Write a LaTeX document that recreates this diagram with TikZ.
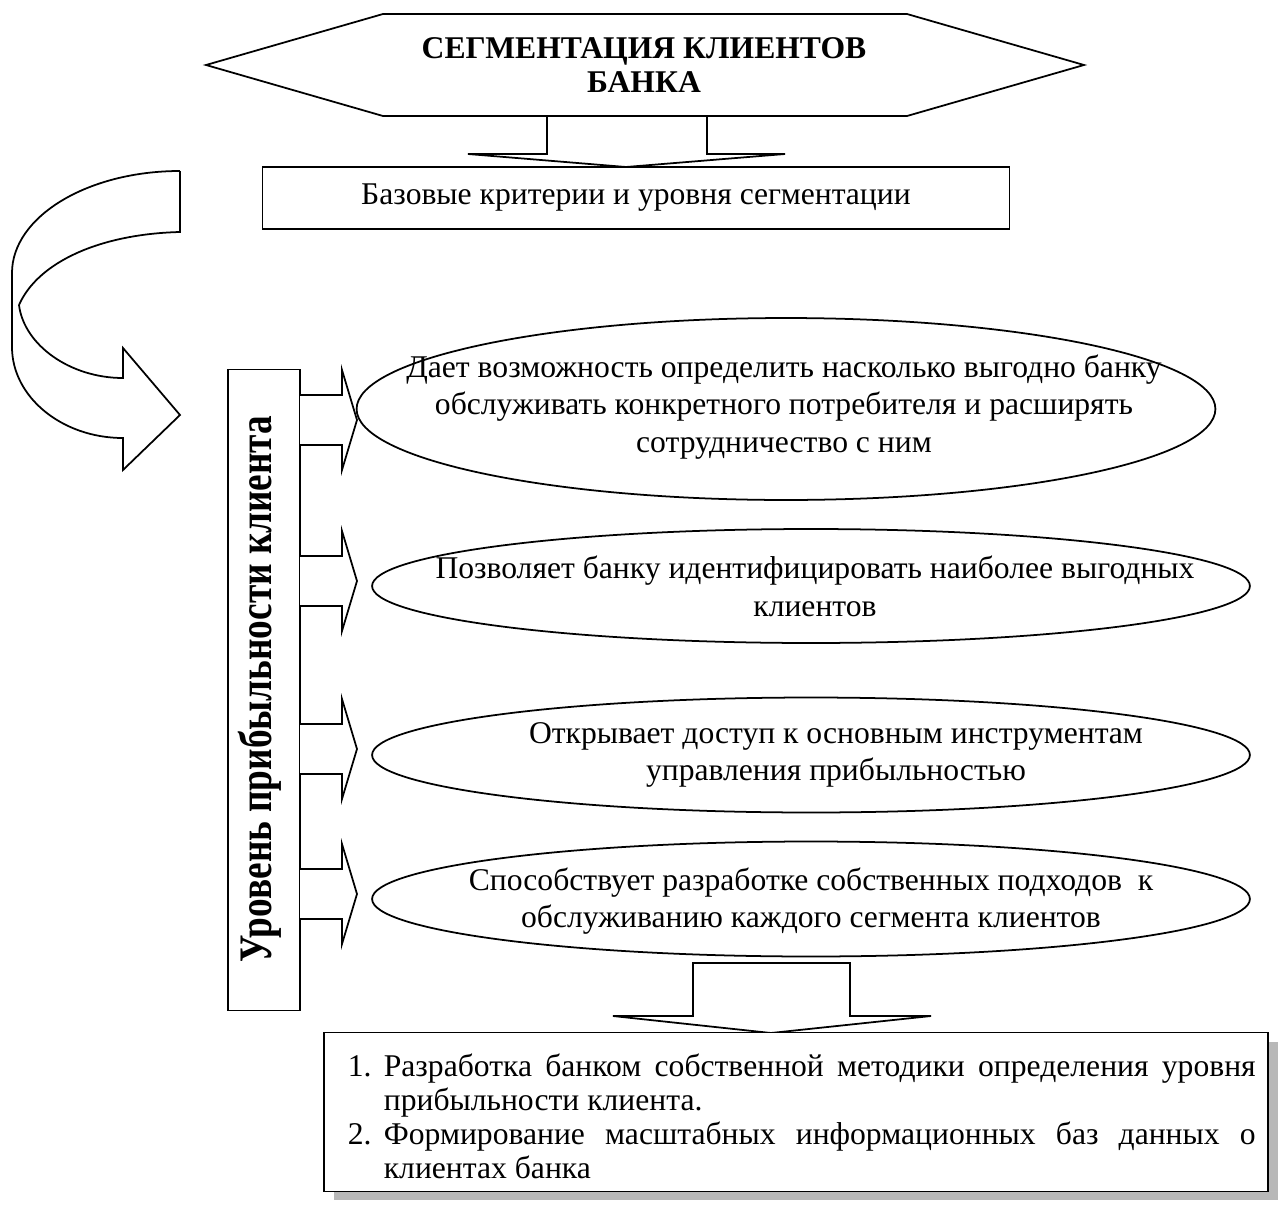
\documentclass[tikz,border=0pt]{standalone}
\usepackage{fontspec}
\setmainfont{Liberation Serif}
\newfontfamily\levelfont{Liberation Serif}[FakeStretch=0.8]
\usepackage{enumitem}
\usetikzlibrary{shapes.geometric}
\usetikzlibrary{shadows}

\begin{document}
\begin{tikzpicture}[
  x=0.02cm, y=-0.02cm, % one unit = one pixel of the scan
  line width=1pt,
  every node/.style={
    align=center,
    font=\fontsize{18}{21.5}\selectfont
  },
  box/.style={draw, rectangle, fill=white},
  oval/.style={draw, ellipse, inner sep=0pt},
  blockarrow/.style={draw, fill=white, line join=miter}
]
\useasboundingbox (0,0) rectangle (1282,1207);

% title
\draw (547,116) -- (547,154) -- (468,154) -- (626,167) -- (785,154) -- (707,154) -- (707,116);
\draw (206,65) -- (383,14) -- (907,14) -- (1084,65) -- (907,116) -- (383,116) -- cycle;
\node[font=\bfseries\fontsize{18}{19.5}\selectfont] (title) at (644,65) {СЕГМЕНТАЦИЯ КЛИЕНТОВ\\БАНКА};

\node[box, minimum width=14.94cm, minimum height=1.24cm] (base) at (636,198) {Базовые критерии и уровня сегментации};

% curved arrow
\draw[blockarrow] (180,171) .. controls (87,171) and (12,217) .. (12,273) -- (12,347)
  .. controls (12,397) and (62,438) .. (123,438) -- (123,470) -- (180,415) -- (123,348) -- (123,378)
  .. controls (70,378) and (24,345) .. (19,305);
\draw (180,171) -- (180,232) .. controls (100,234) and (38,262) .. (19,305);

% level of profitability
\node[box, minimum width=1.44cm, minimum height=12.82cm] (level) at (264,690) {};
\node[rotate=90, font=\levelfont\bfseries\fontsize{26.5}{30}\selectfont] (levtxt) at (260,689) {Уровень прибыльности клиента};

\foreach \c in {420,581,749,894}
  \draw[blockarrow] (300,\c-25) -- (342,\c-25) -- (342,\c-50) -- (357,\c) -- (342,\c+50) -- (342,\c+25) -- (300,\c+25);

\node[oval, minimum width=17.18cm, minimum height=3.64cm] (e1) at (786,409) {};
\node (t1) at (784,407) {Дает возможность определить насколько выгодно банку\\обслуживать конкретного потребителя и расширять\\сотрудничество с ним};

\node[oval, minimum width=17.56cm, minimum height=2.28cm] (e2) at (811,586) {};
\node (t2) at (815,586) {Позволяет банку идентифицировать наиболее выгодных\\клиентов};

\node[oval, minimum width=17.56cm, minimum height=2.3cm] (e3) at (811,755) {};
\node (t3) at (836,755) {Открывает доступ к основным инструментам\\управления прибыльностью};

\node[oval, minimum width=17.56cm, minimum height=2.3cm] (e4) at (811,899) {};
\node (t4) at (811,901) {Способствует разработке собственных подходов \ к\\обслуживанию каждого сегмента клиентов};

% result
\draw[blockarrow] (693,963) -- (850,963) -- (850,1016) -- (931,1016) -- (771,1033) -- (613,1016) -- (693,1016) -- cycle;

\node[box, drop shadow={shadow xshift=0.2cm, shadow yshift=-0.18cm, fill=black!28, opacity=1},
  minimum width=18.88cm, minimum height=3.18cm] (steps) at (796,1112) {};
\node[anchor=north west, text width=18.16cm, align=justify, inner sep=0pt,
  font=\fontsize{18}{19.5}\selectfont] (list) at (347,1041) {%
  \begin{enumerate}[label=\arabic*., leftmargin=0.72cm, labelwidth=0.5cm, labelsep=0.22cm, align=left,
    itemsep=0pt, topsep=0pt, parsep=0pt, partopsep=0pt]
  \item Разработка банком собственной методики определения уровня\linebreak прибыльности клиента.
  \item Формирование масштабных информационных баз данных о\linebreak клиентах банка
  \end{enumerate}};
\end{tikzpicture}
\end{document}
